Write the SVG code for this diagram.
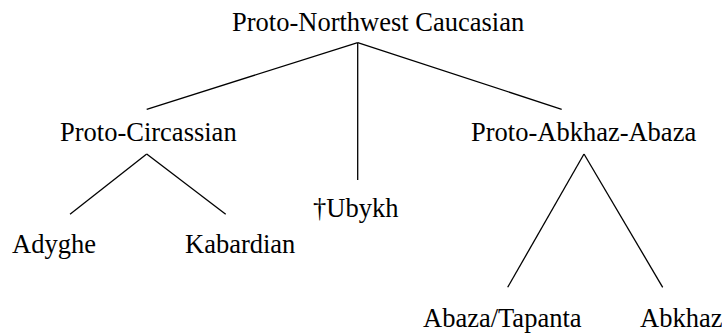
<svg xmlns="http://www.w3.org/2000/svg" width="722" height="333" viewBox="0 0 722 333">
<style>
text{font-family:"Liberation Serif","Times New Roman",serif;font-size:26.5px;fill:#000}
.e{stroke:#000;stroke-width:1.3;fill:none}
</style>
<rect width="722" height="333" fill="#fff"/>
<g id="connectors">
<line class="e" x1="357.7" y1="42.7" x2="146.7" y2="109.3"/>
<line class="e" x1="357.7" y1="42.7" x2="357.7" y2="180"/>
<line class="e" x1="357.7" y1="42.7" x2="561.7" y2="109.3"/>
<line class="e" x1="146.7" y1="154" x2="70" y2="214.3"/>
<line class="e" x1="146.7" y1="154" x2="225.7" y2="214.3"/>
<line class="e" x1="584" y1="154" x2="507.7" y2="287.3"/>
<line class="e" x1="584" y1="154" x2="662.7" y2="287.3"/>
</g>
<g id="root"><text x="232" y="31">Proto-Northwest Caucasian</text></g>
<g id="circassian"><text x="60" y="141">Proto-Circassian</text></g>
<g id="abkhaz-abaza"><text x="471" y="141">Proto-Abkhaz-Abaza</text></g>
<g id="ubykh"><text x="313" y="217">†Ubykh</text></g>
<g id="adyghe"><text x="12" y="253">Adyghe</text></g>
<g id="kabardian"><text x="185" y="253">Kabardian</text></g>
<g id="abaza"><text x="423" y="327">Abaza/Tapanta</text></g>
<g id="abkhaz"><text x="640" y="327">Abkhaz</text></g>
</svg>
